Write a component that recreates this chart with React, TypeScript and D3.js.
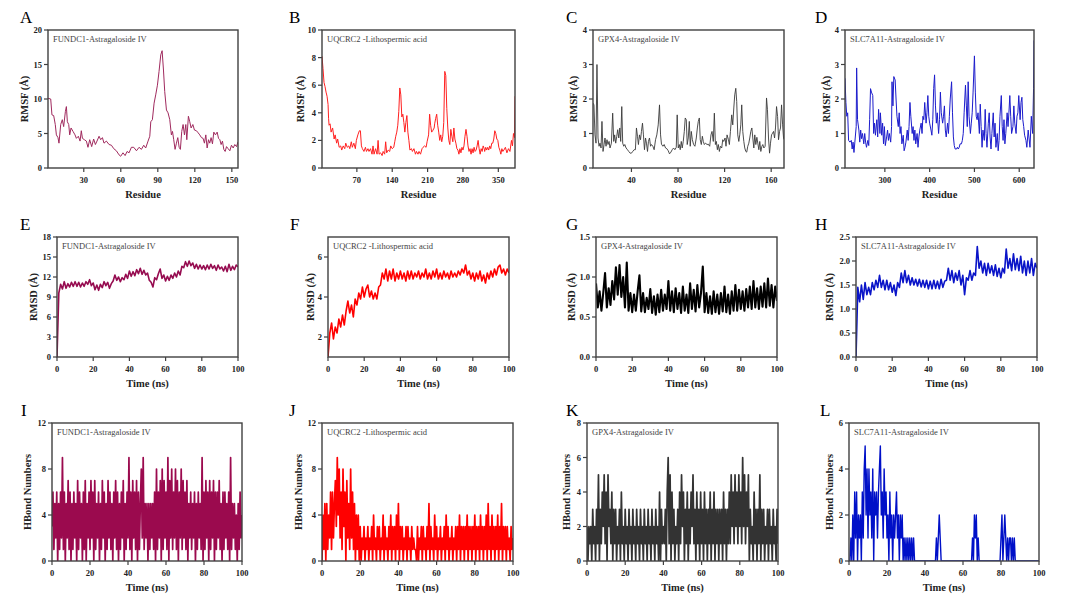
import * as d3 from "d3";

// ---------- RMSF (row 1) ----------
const aResidue = [
  1, 3.2, 4.2, 5.6, 6.9, 7.8, 9.1, 9.9, 11.3, 12.6,
  13.7, 15.1, 15.9, 16.7, 17.8, 18.6, 19.7, 21.3, 22.9, 24,
  25.6, 27, 28, 28.9, 30.5, 32.1, 33.4, 34.8, 36.4, 38,
  39.4, 40.7, 42.4, 43.7, 45.1, 46.4, 48.3, 50.5, 52.4, 54.3,
  56.4, 58.6, 59.9, 61.8, 63.5, 65.1, 66.7, 68.6, 70.5, 72.7,
  74.8, 76.7, 78.6, 80.2, 82.1, 83.5, 84.3, 85.6, 87, 88.3,
  89.7, 91, 92.4, 93.5, 94.6, 95.6, 97, 98.3, 99.7, 101,
  101.9, 102.9, 104, 105.1, 106.2, 107.3, 108.3, 109.4, 110.5, 111.6,
  112.7, 113.5, 114.8, 115.9, 117, 118.4, 119.7, 121.3, 122.7, 124,
  125.4, 126.7, 127.8, 128.9, 130, 131.1, 132.1, 133.2, 134.3, 135.4,
  136.7, 138.1, 139.2, 140.3, 141.3, 142.4, 143.5, 144.6, 145.7, 147,
  148.4, 149.7, 151.1, 152.4, 153.8, 155,
];
const aRmsf = [
  10.1, 10.0, 7.7, 7.6, 6.3, 4.8, 4.4, 3.6, 6.3, 7.0,
  6.0, 8.2, 8.9, 6.7, 6.3, 4.8, 5.8, 5.3, 4.8, 4.3,
  4.6, 3.9, 5.4, 4.3, 4.1, 3.9, 3.0, 4.1, 3.1, 4.2,
  3.4, 3.9, 4.6, 4.1, 4.4, 3.6, 3.9, 3.4, 3.3, 2.8,
  2.5, 1.9, 1.7, 2.2, 1.8, 2.4, 2.2, 3.0, 3.0, 2.5,
  3.0, 2.7, 3.3, 2.9, 3.9, 4.6, 6.7, 7.0, 9.4, 10.6,
  12.0, 14.0, 16.4, 17.0, 14.2, 11.1, 8.4, 8.0, 7.0, 4.8,
  5.3, 4.1, 2.7, 3.6, 4.4, 3.0, 2.7, 5.3, 6.3, 4.8,
  6.3, 4.1, 7.5, 6.7, 5.8, 6.3, 5.5, 5.4, 5.1, 4.8,
  4.4, 4.3, 3.6, 4.8, 2.9, 4.1, 3.6, 4.4, 3.5, 5.2,
  4.8, 5.2, 4.3, 4.1, 3.4, 3.9, 2.7, 2.4, 3.1, 2.8,
  2.5, 3.3, 2.9, 3.4, 3.1, 3.8,
];

const bResidue = [
  1, 3, 5, 7, 9, 11, 13, 14, 15, 17,
  19, 22, 25, 27, 30, 32, 35, 38, 40, 43,
  46, 48, 51, 54, 56, 59, 61, 64, 67, 69,
  72, 75, 77, 79, 81, 84, 87, 89, 92, 94,
  97, 100, 102, 104, 107, 110, 112, 114, 117, 120,
  122, 125, 127, 129, 132, 135, 137, 140, 143, 145,
  147, 149, 151, 153, 155, 157, 159, 161, 163, 165,
  167, 169, 171, 173, 175, 178, 180, 183, 186, 188,
  191, 193, 196, 199, 201, 204, 207, 209, 212, 214,
  216, 218, 220, 223, 224, 226, 228, 230, 232, 234,
  236, 238, 240, 242, 244, 246, 248, 250, 252, 254,
  256, 258, 260, 262, 264, 266, 268, 270, 272, 274,
  276, 278, 280, 282, 284, 286, 288, 290, 292, 294,
  296, 298, 300, 302, 304, 306, 308, 310, 312, 314,
  316, 318, 320, 322, 323, 325, 327, 329, 331, 333,
  335, 337, 339, 341, 343, 345, 347, 349, 351, 353,
  355, 357, 359, 361, 364, 367, 370, 373, 376, 378,
  380, 382, 383,
];
const bRmsf = [
  8.1, 7.2, 6.2, 5.9, 5.5, 5.2, 4.6, 3.6, 3.1, 3.2,
  2.6, 2.9, 2.1, 2.4, 1.8, 2.1, 1.5, 1.6, 1.3, 1.6,
  1.4, 1.8, 1.5, 1.6, 1.4, 1.9, 1.5, 1.8, 1.4, 2.0,
  2.4, 2.7, 2.7, 1.6, 1.4, 1.2, 1.5, 1.2, 1.4, 1.2,
  1.4, 1.0, 1.6, 1.0, 1.4, 1.0, 2.0, 1.0, 1.1, 0.9,
  1.2, 1.0, 1.9, 1.1, 1.3, 1.2, 1.6, 1.4, 1.5, 1.9,
  2.3, 2.6, 3.1, 4.1, 5.8, 5.3, 3.7, 3.9, 3.3, 2.6,
  3.3, 3.8, 2.6, 2.0, 1.3, 1.4, 1.2, 1.4, 1.0, 1.2,
  1.0, 1.2, 1.0, 1.4, 1.5, 1.6, 1.5, 1.9, 2.4, 3.9,
  3.1, 2.6, 2.7, 2.9, 3.2, 3.6, 3.9, 3.1, 2.6, 2.0,
  2.4, 1.9, 2.3, 3.3, 7.0, 6.7, 4.3, 2.9, 2.0, 1.7,
  2.8, 2.3, 1.9, 2.9, 2.1, 1.8, 1.4, 1.3, 1.0, 1.4,
  1.1, 1.5, 1.3, 1.6, 2.3, 2.8, 2.3, 1.6, 1.2, 1.4,
  1.0, 1.4, 1.1, 1.5, 1.2, 1.3, 1.6, 2.0, 1.4, 1.0,
  1.4, 1.2, 1.6, 1.4, 1.2, 1.5, 1.3, 1.5, 1.3, 1.6,
  1.4, 1.8, 1.8, 2.1, 2.7, 2.5, 2.1, 2.0, 1.5, 1.3,
  1.0, 1.4, 1.2, 1.3, 1.5, 1.1, 1.4, 1.2, 2.0, 1.6,
  2.5, 2.2, 5.2,
];

const cResidue = [
  7, 7.8, 8.7, 9.6, 10.4, 11.3, 12.2, 13, 13.9, 14.7,
  15.6, 16.5, 17.3, 18.2, 19, 19.9, 20.8, 21.6, 22.8, 23.9,
  24.8, 25.6, 26.5, 27.4, 28.2, 29.1, 30, 30.8, 31.7, 32.5,
  33.4, 34.3, 35.4, 36.6, 37.7, 38.9, 40, 41.1, 42.3, 43.4,
  44.3, 45.2, 46, 46.9, 47.8, 48.6, 49.5, 50.3, 51.2, 52.1,
  52.9, 53.8, 54.6, 55.5, 56.4, 57.2, 58.4, 59.5, 60.7, 61.8,
  63, 64.1, 65, 65.8, 67, 68.1, 69.3, 70.4, 71.6, 72.7,
  73.9, 75, 76.2, 77.3, 78.5, 79.3, 80.2, 81.1, 81.9, 82.8,
  83.6, 84.5, 85.4, 86.2, 87.1, 87.9, 88.8, 89.7, 90.5, 91.4,
  92.3, 93.4, 94.5, 95.7, 96.6, 97.4, 98.3, 99.1, 100, 100.9,
  101.7, 102.6, 103.7, 104.9, 106, 107.2, 108.3, 109.2, 110.3, 111.2,
  112.1, 112.9, 113.8, 114.6, 115.5, 116.4, 117.5, 118.4, 119.2, 120.4,
  121.2, 122.1, 123.3, 124.1, 125, 126.1, 127, 127.9, 128.7, 129.6,
  130.4, 131.3, 132.2, 133, 133.9, 134.7, 135.6, 136.5, 137.3, 138.2,
  139, 139.9, 140.8, 141.6, 142.5, 143.4, 144.2, 145.1, 145.9, 146.8,
  147.7, 148.5, 149.4, 150.2, 151.1, 152, 152.8, 153.7, 154.8, 156,
  156.8, 157.7, 158.6, 159.4, 160.3, 161.2, 162, 162.9, 163.7, 164.6,
  165.5, 166.3, 167.2, 168, 168.9, 169.8, 170.6, 171.2,
];
const cRmsf = [
  1.88, 1.83, 0.96, 0.72, 3.0, 0.87, 0.63, 0.72, 0.58, 1.35,
  0.48, 0.68, 0.87, 0.63, 0.82, 0.68, 0.77, 0.58, 0.72, 1.59,
  0.77, 0.96, 0.72, 0.92, 1.11, 0.87, 1.16, 0.77, 1.78, 0.72,
  0.63, 0.68, 0.58, 0.53, 0.48, 0.43, 0.43, 0.48, 0.53, 0.53,
  1.16, 0.92, 0.68, 0.96, 0.82, 1.06, 1.30, 0.96, 0.53, 0.87,
  0.72, 0.48, 0.77, 0.87, 0.63, 0.68, 0.63, 0.53, 0.82, 0.96,
  1.25, 1.83, 0.96, 0.69, 0.63, 0.68, 0.58, 0.56, 0.50, 0.41,
  0.46, 0.53, 0.58, 0.53, 0.60, 1.54, 0.58, 0.68, 0.53, 0.77,
  0.58, 0.77, 1.06, 1.45, 1.40, 0.68, 0.87, 1.35, 0.63, 1.06,
  0.82, 0.68, 0.63, 0.87, 1.16, 1.35, 1.45, 0.82, 0.68, 0.92,
  0.77, 0.68, 0.72, 0.68, 0.69, 0.63, 0.96, 1.06, 0.77, 1.59,
  0.68, 0.77, 0.53, 0.68, 0.48, 0.63, 0.58, 0.82, 0.77, 0.87,
  0.63, 0.96, 0.82, 0.68, 1.06, 1.54, 1.25, 1.74, 2.12, 2.31,
  1.93, 0.96, 0.77, 0.96, 1.25, 1.83, 1.06, 0.77, 0.58, 0.48,
  0.46, 0.63, 0.72, 0.87, 1.06, 1.16, 0.87, 0.58, 0.96, 0.68,
  0.89, 0.72, 0.53, 0.77, 0.48, 0.63, 0.68, 0.58, 0.63, 2.03,
  1.69, 0.87, 0.43, 0.72, 0.96, 1.01, 1.06, 0.87, 1.16, 1.78,
  1.49, 0.82, 1.06, 1.16, 1.83, 1.25, 0.87, 0.82,
];

const dResidue = [
  211, 213, 215, 217, 219, 222, 225, 227, 229, 231,
  233, 236, 237, 239, 242, 244, 246, 248, 250, 253,
  255, 257, 259, 262, 264, 266, 268, 270, 273, 275,
  277, 279, 282, 284, 286, 289, 290, 293, 295, 297,
  299, 301, 304, 306, 308, 310, 313, 315, 316, 318,
  320, 323, 325, 327, 330, 332, 334, 336, 338, 341,
  343, 345, 347, 350, 352, 354, 356, 358, 361, 363,
  365, 367, 369, 372, 374, 376, 378, 381, 383, 385,
  387, 389, 392, 394, 396, 398, 400, 403, 405, 407,
  409, 411, 413, 415, 417, 420, 422, 424, 426, 429,
  431, 433, 435, 437, 440, 442, 444, 446, 449, 451,
  453, 455, 457, 460, 462, 464, 466, 468, 471, 473,
  475, 477, 480, 482, 484, 486, 488, 491, 493, 495,
  497, 500, 502, 504, 506, 508, 511, 513, 515, 517,
  519, 522, 524, 526, 528, 531, 533, 535, 537, 539,
  542, 544, 546, 548, 551, 553, 555, 557, 560, 562,
  564, 566, 568, 570, 573, 575, 577, 579, 581, 583,
  586, 588, 590, 593, 595, 597, 599, 602, 604, 606,
  608, 610, 612, 615, 617, 620, 624, 627, 630, 632,
  633,
];
const dRmsf = [
  2.6, 1.9, 1.5, 1.6, 0.8, 0.75, 0.8, 0.55, 0.75, 0.45,
  0.75, 1.2, 2.9, 1.4, 1.1, 0.75, 1.1, 0.85, 1.0, 0.7,
  1.0, 0.75, 0.6, 0.8, 0.65, 1.4, 2.3, 2.2, 2.1, 1.0,
  1.3, 0.95, 1.4, 0.9, 1.7, 1.0, 1.6, 0.95, 1.3, 0.7,
  1.2, 0.65, 0.9, 1.1, 0.8, 1.0, 0.75, 1.2, 2.5, 1.8,
  2.65, 2.55, 2.0, 1.5, 1.2, 1.6, 1.0, 1.2, 0.7, 0.95,
  0.5, 0.6, 0.75, 1.1, 0.8, 1.2, 1.9, 1.5, 1.0, 1.2,
  0.8, 1.1, 0.7, 1.0, 0.6, 0.9, 1.1, 1.3, 1.0, 1.5,
  1.4, 1.9, 1.3, 1.6, 2.1, 1.5, 1.3, 1.1, 0.95, 1.4,
  2.3, 2.7, 1.8, 1.3, 1.6, 1.0, 1.4, 2.2, 1.6, 1.3,
  1.5, 1.8, 1.1, 0.9, 1.3, 1.0, 1.5, 2.0, 2.5, 1.6,
  0.9, 0.65, 0.55, 0.55, 0.6, 0.55, 0.6, 0.7, 0.7, 0.8,
  1.0, 1.6, 2.4, 1.8, 1.2, 2.5, 1.5, 1.0, 1.3, 1.6,
  2.2, 3.25, 2.2, 1.5, 1.4, 1.6, 1.0, 1.85, 1.2, 0.6,
  1.1, 0.8, 1.7, 1.0, 0.6, 1.3, 1.6, 0.9, 0.55, 1.0,
  1.6, 0.9, 1.3, 0.6, 1.0, 0.5, 0.8, 1.5, 2.1, 1.2,
  0.8, 1.4, 0.7, 1.0, 1.6, 1.2, 1.6, 2.1, 1.5, 1.0,
  1.2, 1.8, 1.3, 1.0, 1.5, 1.6, 2.1, 1.4, 1.9, 2.05,
  1.4, 1.2, 0.95, 0.8, 0.6, 1.1, 0.6, 1.5, 1.0, 2.3,
  3.7,
];

// ---------- RMSD (row 2), one value per ns ----------
const eRmsd = [
  0, 9.6, 10.9, 10.2, 11.3, 10.3, 11.0, 10.5, 11.2, 10.6,
  11.3, 10.6, 11.2, 10.5, 11.1, 10.6, 11.3, 10.9, 11.6, 10.7,
  11.1, 10.1, 10.8, 10.0, 10.9, 10.4, 11.3, 10.7, 11.2, 10.3,
  11.0, 11.4, 12.3, 11.5, 12.0, 11.3, 11.9, 11.6, 12.4, 11.8,
  12.9, 12.1, 12.8, 12.2, 13.1, 12.5, 13.3, 12.4, 13.0, 12.3,
  12.6, 11.5, 11.2, 10.5, 11.9, 11.6, 12.5, 13.2, 11.8, 12.3,
  11.4, 12.1, 11.5, 12.3, 11.8, 12.6, 12.0, 12.9, 12.3, 13.6,
  13.4, 14.3, 13.6, 14.4, 13.7, 14.1, 13.3, 13.9, 13.2, 13.8,
  13.2, 13.7, 13.1, 13.8, 13.2, 13.9, 13.3, 13.7, 13.0, 13.8,
  13.2, 13.5, 12.9, 13.6, 12.8, 13.9, 13.0, 13.6, 13.1, 13.8,
  13.5,
];
const fRmsd = [
  1.0, 2.2, 2.7, 1.9, 2.5, 2.2, 2.9, 2.5, 3.1, 2.6,
  3.3, 3.8, 3.2, 3.6, 3.0, 3.9, 3.6, 4.2, 3.9, 4.5,
  4.0, 4.4, 4.6, 4.0, 4.3, 3.9, 4.2, 3.9, 4.5, 4.6,
  5.2, 4.9, 5.4, 4.8, 5.3, 4.9, 5.4, 4.8, 5.2, 4.9,
  5.3, 4.9, 5.2, 4.8, 5.3, 4.9, 5.3, 4.9, 5.2, 5.0,
  5.3, 4.9, 5.2, 5.0, 5.4, 4.9, 5.2, 4.9, 5.3, 5.0,
  5.4, 4.9, 5.2, 4.9, 5.3, 5.0, 5.2, 4.9, 5.3, 5.0,
  5.2, 5.0, 5.3, 5.1, 5.4, 5.2, 5.6, 5.1, 5.3, 4.9,
  5.2, 4.8, 5.2, 4.9, 5.3, 4.8, 5.1, 4.7, 5.2, 4.9,
  5.3, 5.0, 5.4, 5.1, 5.5, 5.6, 5.2, 5.4, 5.1, 5.4,
  5.2,
];
const gRmsd = [
  0.92, 0.62, 0.82, 0.58, 0.8, 1.05, 0.62, 0.86, 0.65, 0.95,
  0.72, 1.12, 0.78, 1.15, 0.75, 1.0, 0.62, 1.18, 0.58, 0.8,
  0.56, 0.78, 0.58, 0.82, 1.02, 0.57, 0.8, 0.56, 0.74, 0.6,
  0.85, 0.55, 0.76, 0.53, 0.78, 0.56, 0.84, 0.58, 0.78, 0.6,
  0.95, 0.58, 0.82, 0.56, 0.86, 0.6, 0.8, 0.55, 0.88, 0.58,
  0.78, 0.55, 0.92, 0.6, 0.84, 0.57, 0.9, 0.62, 0.8, 1.13,
  0.56, 0.8, 0.55, 0.76, 0.54, 0.82, 0.56, 0.78, 0.54, 0.8,
  0.57, 0.88, 0.56, 0.78, 0.54, 0.82, 0.58, 0.9, 0.58, 0.84,
  0.6, 0.82, 0.58, 0.85, 0.62, 0.88, 0.6, 0.95, 0.62, 0.86,
  0.6, 0.88, 0.63, 0.92, 0.62, 0.98, 0.64, 0.9, 0.62, 0.88,
  0.7,
];
const hRmsd = [
  0.0, 1.45, 1.15, 1.5, 1.2, 1.55, 1.3, 1.45, 1.3, 1.55,
  1.4, 1.6, 1.45, 1.7, 1.45, 1.6, 1.4, 1.6, 1.4, 1.55,
  1.35, 1.5, 1.28, 1.55, 1.45, 1.75, 1.55, 1.8, 1.55, 1.7,
  1.5, 1.65, 1.5, 1.62, 1.48, 1.62, 1.46, 1.6, 1.45, 1.6,
  1.42, 1.58, 1.42, 1.6, 1.43, 1.58, 1.42, 1.62, 1.45, 1.58,
  1.6, 1.85, 1.6, 1.8, 1.55, 1.75, 1.6, 1.8, 1.5, 1.7,
  1.3, 1.65, 1.6, 1.8, 1.6, 1.75, 1.7, 2.3, 1.85, 2.0,
  1.75, 1.95, 1.7, 1.95, 1.75, 1.9, 1.7, 1.92, 1.68, 1.85,
  1.65, 1.85, 1.75, 2.25, 1.85, 2.05, 1.8, 2.15, 1.82, 2.05,
  1.8, 2.1, 1.75, 2.0, 1.7, 2.0, 1.75, 2.05, 1.7, 1.95,
  1.85,
];

// ---------- H-bond numbers (row 3), one value per 0.5 ns ----------
const iHbond = [
  3, 6, 1, 5, 2, 6, 0, 5, 1, 6, 2, 9, 1, 6, 0, 5, 2, 7, 1, 6,
  0, 5, 1, 6, 2, 5, 0, 7, 1, 6, 2, 5, 0, 6, 1, 7, 0, 5, 2, 6,
  1, 7, 2, 6, 0, 7, 1, 5, 2, 6, 0, 5, 1, 7, 2, 6, 0, 5, 1, 7,
  2, 6, 1, 5, 0, 6, 2, 7, 1, 6, 0, 5, 1, 6, 2, 7, 0, 5, 1, 6,
  2, 9, 1, 6, 0, 7, 2, 6, 1, 7, 0, 6, 1, 5, 8, 2, 9, 1, 5, 2,
  5, 0, 5, 1, 5, 2, 5, 1, 6, 0, 8, 1, 6, 2, 7, 0, 8, 1, 7, 2,
  6, 1, 9, 0, 7, 2, 8, 1, 6, 2, 8, 1, 7, 0, 6, 2, 8, 1, 7, 2,
  6, 1, 7, 0, 5, 2, 6, 1, 5, 2, 6, 0, 5, 1, 6, 2, 5, 1, 9, 0,
  6, 1, 7, 2, 6, 0, 7, 1, 6, 2, 7, 0, 6, 1, 6, 2, 7, 1, 5, 0,
  6, 1, 6, 2, 5, 1, 6, 0, 9, 1, 5, 2, 5, 1, 4, 0, 5, 1, 6, 2,
  4,
];
const jHbond = [
  0, 4, 1, 5, 0, 5, 1, 4, 2, 6, 1, 6, 2, 5, 7, 3, 9, 4, 8, 2,
  6, 1, 8, 3, 6, 0, 7, 2, 5, 1, 8, 2, 6, 1, 5, 0, 4, 1, 4, 0,
  3, 0, 2, 1, 3, 0, 2, 1, 3, 0, 2, 1, 3, 0, 4, 1, 2, 0, 3, 1,
  3, 0, 2, 1, 4, 0, 3, 1, 2, 0, 3, 1, 4, 0, 3, 1, 3, 0, 4, 1,
  5, 0, 3, 1, 3, 0, 2, 1, 3, 0, 3, 1, 2, 0, 3, 1, 2, 1, 1, 0,
  3, 0, 2, 1, 3, 0, 3, 1, 2, 0, 3, 1, 5, 0, 3, 1, 2, 0, 4, 1,
  3, 0, 2, 1, 3, 0, 2, 1, 3, 0, 4, 1, 3, 0, 2, 1, 3, 0, 2, 1,
  3, 0, 3, 1, 4, 0, 3, 1, 3, 0, 3, 1, 4, 0, 3, 1, 3, 0, 3, 1,
  4, 0, 3, 1, 3, 0, 4, 1, 3, 0, 3, 1, 4, 0, 5, 1, 3, 0, 4, 1,
  3, 0, 3, 1, 4, 0, 3, 1, 5, 0, 3, 1, 3, 0, 3, 1, 2, 0, 3, 1,
  2,
];
const kHbond = [
  2, 0, 2, 1, 2, 0, 3, 1, 2, 0, 3, 1, 5, 0, 3, 1, 4, 2, 5, 1,
  4, 0, 5, 2, 3, 1, 4, 0, 3, 1, 3, 0, 2, 1, 3, 0, 4, 1, 2, 0,
  3, 1, 2, 0, 3, 1, 2, 0, 3, 1, 2, 0, 3, 1, 2, 0, 3, 1, 2, 0,
  3, 1, 2, 0, 3, 1, 2, 0, 3, 1, 2, 0, 3, 1, 2, 0, 4, 0, 3, 1,
  2, 1, 3, 0, 4, 6, 1, 5, 0, 4, 1, 3, 0, 2, 1, 3, 0, 4, 1, 5,
  2, 4, 0, 3, 1, 4, 0, 3, 1, 4, 2, 5, 1, 3, 0, 4, 1, 3, 0, 4,
  1, 3, 0, 4, 1, 3, 0, 3, 1, 4, 0, 3, 1, 4, 0, 3, 1, 3, 0, 3,
  1, 3, 0, 4, 1, 3, 0, 3, 1, 4, 1, 5, 2, 4, 1, 5, 2, 4, 1, 5,
  2, 4, 1, 6, 2, 5, 1, 4, 2, 5, 0, 3, 1, 2, 0, 4, 1, 3, 0, 3,
  1, 5, 0, 3, 1, 3, 0, 2, 1, 3, 0, 3, 1, 2, 0, 3, 1, 2, 0, 3,
  1,
];
const lHbond = [
  0, 0, 1, 0, 2, 0, 3, 1, 3, 0, 2, 1, 2, 0, 3, 1, 4, 5, 2, 4,
  1, 4, 2, 3, 1, 4, 0, 3, 2, 3, 1, 3, 4, 5, 2, 3, 1, 4, 2, 3,
  1, 2, 0, 3, 1, 2, 0, 2, 1, 2, 3, 1, 2, 0, 2, 1, 2, 0, 1, 0,
  1, 0, 1, 0, 1, 0, 1, 0, 1, 0, 0, 0, 0, 0, 0, 0, 0, 0, 0, 0,
  0, 0, 0, 0, 0, 0, 0, 0, 0, 0, 0, 0, 1, 0, 1, 2, 1, 0, 0, 0,
  0, 0, 0, 0, 0, 0, 0, 0, 0, 0, 0, 0, 0, 0, 0, 0, 0, 0, 0, 0,
  0, 0, 0, 0, 0, 0, 0, 0, 0, 0, 1, 0, 2, 1, 2, 0, 1, 0, 0, 0,
  0, 0, 0, 0, 0, 0, 0, 0, 0, 0, 0, 0, 0, 0, 0, 0, 0, 0, 0, 0,
  1, 2, 0, 1, 2, 1, 0, 1, 0, 1, 1, 0, 1, 0, 1, 0, 0, 0, 0, 0,
  0, 0, 0, 0, 0, 0, 0, 0, 0, 0, 0, 0, 0, 0, 0, 0, 0, 0, 0, 0,
  0,
];

// ---------- titles / ticks ----------
const titles = [
  "FUNDC1-Astragaloside IV",
  "UQCRC2 -Lithospermic acid",
  "GPX4-Astragaloside IV",
  "SLC7A11-Astragaloside IV",
];
const timeTicks = [0, 20, 40, 60, 80, 100];

const FONT = "'Liberation Serif', 'Times New Roman', serif";
const FRAME = "#404040";

type Box = { x0: number; x1: number; y0: number; y1: number };
type PanelCfg = {
  letter: string;
  letterX: number;
  box: Box;
  title: string;
  xDomain: [number, number];
  yDomain: [number, number];
  xTicks: number[];
  yTicks: number[];
  yFmt?: (v: number) => string;
  xs: number[];
  ys: number[];
  color: string;
  lw: number;
  xLabel: string;
  yLabel: string;
  yGap: number;
};

const step = (arr: number[], dt: number) => arr.map((_, i) => i * dt);

function Panel({ c }: { c: PanelCfg }) {
  const { box } = c;
  const x = d3.scaleLinear().domain(c.xDomain).range([box.x0, box.x1]);
  const y = d3.scaleLinear().domain(c.yDomain).range([box.y1, box.y0]);
  const d = d3
    .line<number>()
    .x((_, i) => x(c.xs[i]))
    .y((v) => y(v))(c.ys);
  const fmt = c.yFmt || ((v: number) => String(v));
  const clipId = `clip-${c.letter}`;
  const midX = (box.x0 + box.x1) / 2;
  const midY = (box.y0 + box.y1) / 2;
  return (
    <g>
      <clipPath id={clipId}>
        <rect x={box.x0} y={box.y0 - 1} width={box.x1 - box.x0} height={box.y1 - box.y0 + 1} />
      </clipPath>
      <text x={c.letterX} y={box.y0 - 7} fontFamily={FONT} fontSize={17}>
        {c.letter}
      </text>
      <path
        d={d || undefined}
        fill="none"
        stroke={c.color}
        strokeWidth={c.lw}
        strokeLinejoin="round"
        clipPath={`url(#${clipId})`}
      />
      <rect
        x={box.x0}
        y={box.y0}
        width={box.x1 - box.x0}
        height={box.y1 - box.y0}
        fill="none"
        stroke={FRAME}
        strokeWidth={1.4}
      />
      <text x={box.x0 + 5} y={box.y0 + 12} fontFamily={FONT} fontSize={8.5} fill="#444">
        {c.title}
      </text>
      {c.xTicks.map((t) => (
        <g key={`x${t}`}>
          <line x1={x(t)} x2={x(t)} y1={box.y1} y2={box.y1 + 4} stroke={FRAME} strokeWidth={1.2} />
          <text
            x={x(t)}
            y={box.y1 + 15}
            textAnchor="middle"
            fontFamily={FONT}
            fontSize={8.5}
            fontWeight="bold"
            fill="#222"
          >
            {t}
          </text>
        </g>
      ))}
      {c.yTicks.map((t) => (
        <g key={`y${t}`}>
          <line x1={box.x0 - 4} x2={box.x0} y1={y(t)} y2={y(t)} stroke={FRAME} strokeWidth={1.2} />
          <text
            x={box.x0 - 6}
            y={y(t)}
            textAnchor="end"
            dominantBaseline="central"
            fontFamily={FONT}
            fontSize={8.5}
            fontWeight="bold"
            fill="#222"
          >
            {fmt(t)}
          </text>
        </g>
      ))}
      <text
        x={midX}
        y={box.y1 + 30}
        textAnchor="middle"
        fontFamily={FONT}
        fontSize={10.5}
        fontWeight="bold"
        fill="#222"
      >
        {c.xLabel}
      </text>
      <text
        transform={`translate(${box.x0 - c.yGap},${midY}) rotate(-90)`}
        textAnchor="middle"
        dominantBaseline="central"
        fontFamily={FONT}
        fontSize={10.5}
        fontWeight="bold"
        fill="#222"
      >
        {c.yLabel}
      </text>
    </g>
  );
}

const f1 = d3.format(".1f");
const R1 = { y0: 30, y1: 168 };
const R2 = { y0: 237, y1: 357 };
const R3 = { y0: 423, y1: 561 };

const panels: PanelCfg[] = [
  {
    letter: "A", letterX: 20, box: { x0: 48, x1: 238, ...R1 }, title: titles[0],
    xDomain: [1, 155], yDomain: [0, 20], xTicks: [30, 60, 90, 120, 150], yTicks: [0, 5, 10, 15, 20],
    xs: aResidue, ys: aRmsf, color: "#a02a5e", lw: 1, xLabel: "Residue", yLabel: "RMSF (Å)", yGap: 24,
  },
  {
    letter: "B", letterX: 289, box: { x0: 322, x1: 515, ...R1 }, title: titles[1],
    xDomain: [1, 383], yDomain: [0, 10], xTicks: [70, 140, 210, 280, 350], yTicks: [0, 2, 4, 6, 8, 10],
    xs: bResidue, ys: bRmsf, color: "#ff2020", lw: 1, xLabel: "Residue", yLabel: "RMSF (Å)", yGap: 22,
  },
  {
    letter: "C", letterX: 566, box: { x0: 593, x1: 784, ...R1 }, title: titles[2],
    xDomain: [7, 171], yDomain: [0, 4], xTicks: [40, 80, 120, 160], yTicks: [0, 1, 2, 3, 4],
    xs: cResidue, ys: cRmsf, color: "#3a3a3a", lw: 0.9, xLabel: "Residue", yLabel: "RMSF (Å)", yGap: 20,
  },
  {
    letter: "D", letterX: 815, box: { x0: 845, x1: 1034, ...R1 }, title: titles[3],
    xDomain: [211, 633], yDomain: [0, 4], xTicks: [300, 400, 500, 600], yTicks: [0, 1, 2, 3, 4],
    xs: dResidue, ys: dRmsf, color: "#1c1ccc", lw: 1, xLabel: "Residue", yLabel: "RMSF (Å)", yGap: 19,
  },
  {
    letter: "E", letterX: 20, box: { x0: 57, x1: 238, ...R2 }, title: titles[0],
    xDomain: [0, 100], yDomain: [0, 18], xTicks: timeTicks, yTicks: [0, 3, 6, 9, 12, 15, 18],
    xs: step(eRmsd, 1), ys: eRmsd, color: "#960c50", lw: 1.6, xLabel: "Time (ns)", yLabel: "RMSD (Å)", yGap: 24,
  },
  {
    letter: "F", letterX: 290, box: { x0: 328, x1: 509, ...R2 }, title: titles[1],
    xDomain: [0, 100], yDomain: [1, 7], xTicks: timeTicks, yTicks: [2, 4, 6],
    xs: step(fRmsd, 1), ys: fRmsd, color: "#ff0000", lw: 1.6, xLabel: "Time (ns)", yLabel: "RMSD (Å)", yGap: 18,
  },
  {
    letter: "G", letterX: 566, box: { x0: 596, x1: 777, ...R2 }, title: titles[2],
    xDomain: [0, 100], yDomain: [0, 1.5], xTicks: timeTicks, yTicks: [0, 0.5, 1.0, 1.5], yFmt: f1,
    xs: step(gRmsd, 1), ys: gRmsd, color: "#000000", lw: 2.1, xLabel: "Time (ns)", yLabel: "RMSD (Å)", yGap: 25,
  },
  {
    letter: "H", letterX: 815, box: { x0: 856, x1: 1037, ...R2 }, title: titles[3],
    xDomain: [0, 100], yDomain: [0, 2.5], xTicks: timeTicks, yTicks: [0, 0.5, 1.0, 1.5, 2.0, 2.5], yFmt: f1,
    xs: step(hRmsd, 1), ys: hRmsd, color: "#0a14c8", lw: 1.6, xLabel: "Time (ns)", yLabel: "RMSD (Å)", yGap: 27,
  },
  {
    letter: "I", letterX: 21, box: { x0: 52, x1: 242, ...R3 }, title: titles[0],
    xDomain: [0, 100], yDomain: [0, 12], xTicks: timeTicks, yTicks: [0, 4, 8, 12],
    xs: step(iHbond, 0.5), ys: iHbond, color: "#9b0a4e", lw: 1.7, xLabel: "Time (ns)", yLabel: "HBond Numbers", yGap: 25,
  },
  {
    letter: "J", letterX: 289, box: { x0: 322, x1: 513, ...R3 }, title: titles[1],
    xDomain: [0, 100], yDomain: [0, 12], xTicks: timeTicks, yTicks: [0, 4, 8, 12],
    xs: step(jHbond, 0.5), ys: jHbond, color: "#ff0000", lw: 1.7, xLabel: "Time (ns)", yLabel: "HBond Numbers", yGap: 24,
  },
  {
    letter: "K", letterX: 566, box: { x0: 587, x1: 778, ...R3 }, title: titles[2],
    xDomain: [0, 100], yDomain: [0, 8], xTicks: timeTicks, yTicks: [0, 2, 4, 6, 8],
    xs: step(kHbond, 0.5), ys: kHbond, color: "#333333", lw: 1.7, xLabel: "Time (ns)", yLabel: "HBond Numbers", yGap: 21,
  },
  {
    letter: "L", letterX: 820, box: { x0: 849, x1: 1039, ...R3 }, title: titles[3],
    xDomain: [0, 100], yDomain: [0, 6], xTicks: timeTicks, yTicks: [0, 2, 4, 6],
    xs: step(lHbond, 0.5), ys: lHbond, color: "#0010c8", lw: 1.4, xLabel: "Time (ns)", yLabel: "HBond Numbers", yGap: 20,
  },
];

export default function App() {
  return (
    <svg
      width={1080}
      height={612}
      style={{ position: "absolute", left: 0, top: 0, background: "#fff" }}
    >
      <rect width={1080} height={612} fill="#fff" />
      {panels.map((p) => (
        <Panel key={p.letter} c={p} />
      ))}
    </svg>
  );
}
